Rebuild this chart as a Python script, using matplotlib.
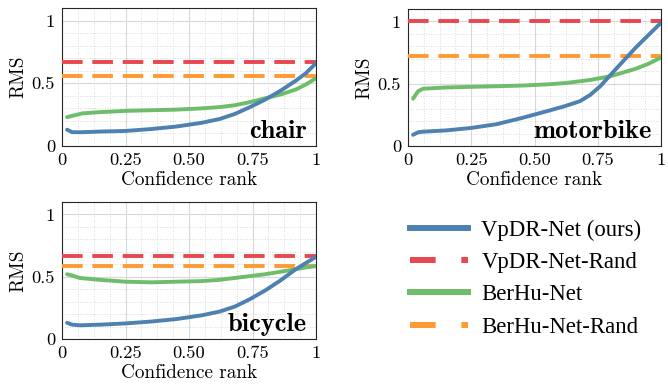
import numpy as np
import matplotlib
matplotlib.use("Agg")
import matplotlib.pyplot as plt
from matplotlib.lines import Line2D
from matplotlib.ticker import MultipleLocator, FixedLocator

plt.rcParams["font.family"] = ["cmr10", "DejaVu Serif"]
plt.rcParams["axes.formatter.use_mathtext"] = True
plt.rcParams["mathtext.fontset"] = "cm"

C_BLUE = "#4f81b0"
C_RED = "#e8474f"
C_GREEN = "#6dbd6a"
C_ORANGE = "#ff9a33"

# ---- data ----
names = ["chair", "motorbike", "bicycle"]

chair_x = [0.02, 0.04, 0.08, 0.15, 0.25, 0.35, 0.45, 0.55, 0.62, 0.68, 0.74, 0.80, 0.86, 0.92, 0.96, 1.0]
chair_blue = [0.13, 0.11, 0.11, 0.115, 0.12, 0.135, 0.155, 0.185, 0.215, 0.255, 0.31, 0.37, 0.44, 0.52, 0.58, 0.66]
chair_green = [0.23, 0.24, 0.26, 0.27, 0.28, 0.285, 0.29, 0.30, 0.31, 0.325, 0.35, 0.38, 0.41, 0.45, 0.49, 0.54]
chair_rand = [0.67, 0.56]

moto_x = [0.02, 0.04, 0.06, 0.15, 0.25, 0.35, 0.45, 0.55, 0.62, 0.68, 0.72, 0.76, 0.80, 0.85, 0.90, 0.95, 1.0]
moto_blue = [0.09, 0.11, 0.115, 0.125, 0.145, 0.175, 0.225, 0.28, 0.32, 0.36, 0.41, 0.48, 0.57, 0.68, 0.79, 0.89, 0.99]
moto_green = [0.38, 0.44, 0.46, 0.47, 0.475, 0.48, 0.485, 0.495, 0.505, 0.52, 0.53, 0.545, 0.56, 0.59, 0.62, 0.66, 0.71]
moto_rand = [1.0, 0.72]

bike_x = [0.02, 0.04, 0.07, 0.15, 0.25, 0.35, 0.45, 0.55, 0.62, 0.68, 0.74, 0.80, 0.86, 0.92, 0.96, 1.0]
bike_blue = [0.13, 0.115, 0.11, 0.115, 0.125, 0.14, 0.16, 0.19, 0.22, 0.26, 0.32, 0.39, 0.47, 0.56, 0.61, 0.66]
bike_green = [0.52, 0.51, 0.49, 0.475, 0.46, 0.455, 0.46, 0.465, 0.475, 0.49, 0.505, 0.52, 0.54, 0.56, 0.575, 0.585]
bike_rand = [0.67, 0.59]

labels = ["VpDR-Net (ours)", "VpDR-Net-Rand", "BerHu-Net", "BerHu-Net-Rand"]

W, H = 668, 387
fig = plt.figure(figsize=(W / 100, H / 100), dpi=100)


def add_ax(l, t, r, b):
    return fig.add_axes([l / W, 1 - b / H, (r - l) / W, (b - t) / H])


axes = [add_ax(62, 8, 316, 146), add_ax(408, 9, 661, 146), add_ax(62, 202, 316, 339)]
series = [(chair_x, chair_blue, chair_green, chair_rand),
          (moto_x, moto_blue, moto_green, moto_rand),
          (bike_x, bike_blue, bike_green, bike_rand)]

lw = 2.8
dash = (0, (5.3, 2.5))
for ax, name, (x, blue, green, rand) in zip(axes, names, series):
    ax.axhline(rand[0], color=C_RED, lw=lw, ls=dash, zorder=3)
    ax.axhline(rand[1], color=C_ORANGE, lw=lw, ls=dash, zorder=3)
    ax.plot(x, green, color=C_GREEN, lw=lw, zorder=4, solid_capstyle="round")
    ax.plot(x, blue, color=C_BLUE, lw=lw, zorder=5, solid_capstyle="round")
    ax.set_xlim(0, 1)
    ax.set_ylim(0, 1.1)
    ax.xaxis.set_major_locator(FixedLocator([0, 0.25, 0.5, 0.75, 1]))
    ax.set_xticklabels(["0", "0.25", "0.50", "0.75", "1"])
    ax.yaxis.set_major_locator(FixedLocator([0, 0.5, 1]))
    ax.set_yticklabels(["0", "0.5", "1"])
    ax.xaxis.set_minor_locator(MultipleLocator(0.0625))
    ax.yaxis.set_minor_locator(MultipleLocator(0.1))
    ax.grid(which="major", color="#d8d8d8", lw=0.8)
    ax.grid(which="minor", color="#cfcfcf", lw=0.6, ls=(0, (1, 2)))
    ax.tick_params(which="both", direction="in", length=0, labelsize=13.3, pad=5)
    ax.set_xlabel("Confidence rank", fontsize=13.8, labelpad=2)
    ax.set_ylabel("RMS", fontsize=13.8, labelpad=3)
    for s in ax.spines.values():
        s.set_color("#262626")
        s.set_linewidth(0.8)
    ax.text(0.965, 0.055, name, transform=ax.transAxes, ha="right", va="baseline",
            fontsize=19, fontweight="bold", family=["cmb10", "DejaVu Serif"], zorder=6)

lw_leg = 4.3
handles = [Line2D([], [], color=C_BLUE, lw=lw_leg),
           Line2D([], [], color=C_RED, lw=lw_leg, ls=(0, (4.3, 4.3))),
           Line2D([], [], color=C_GREEN, lw=lw_leg),
           Line2D([], [], color=C_ORANGE, lw=lw_leg, ls=(0, (4.3, 4.3)))]
fig.legend(handles, labels, loc="upper left", bbox_to_anchor=(389 / W, 1 - 199 / H),
           frameon=False, prop={"family": "Liberation Serif", "size": 16.4},
           handlelength=2.55, handletextpad=0.6, labelspacing=0.5)

fig.savefig("out.png", dpi=100)
